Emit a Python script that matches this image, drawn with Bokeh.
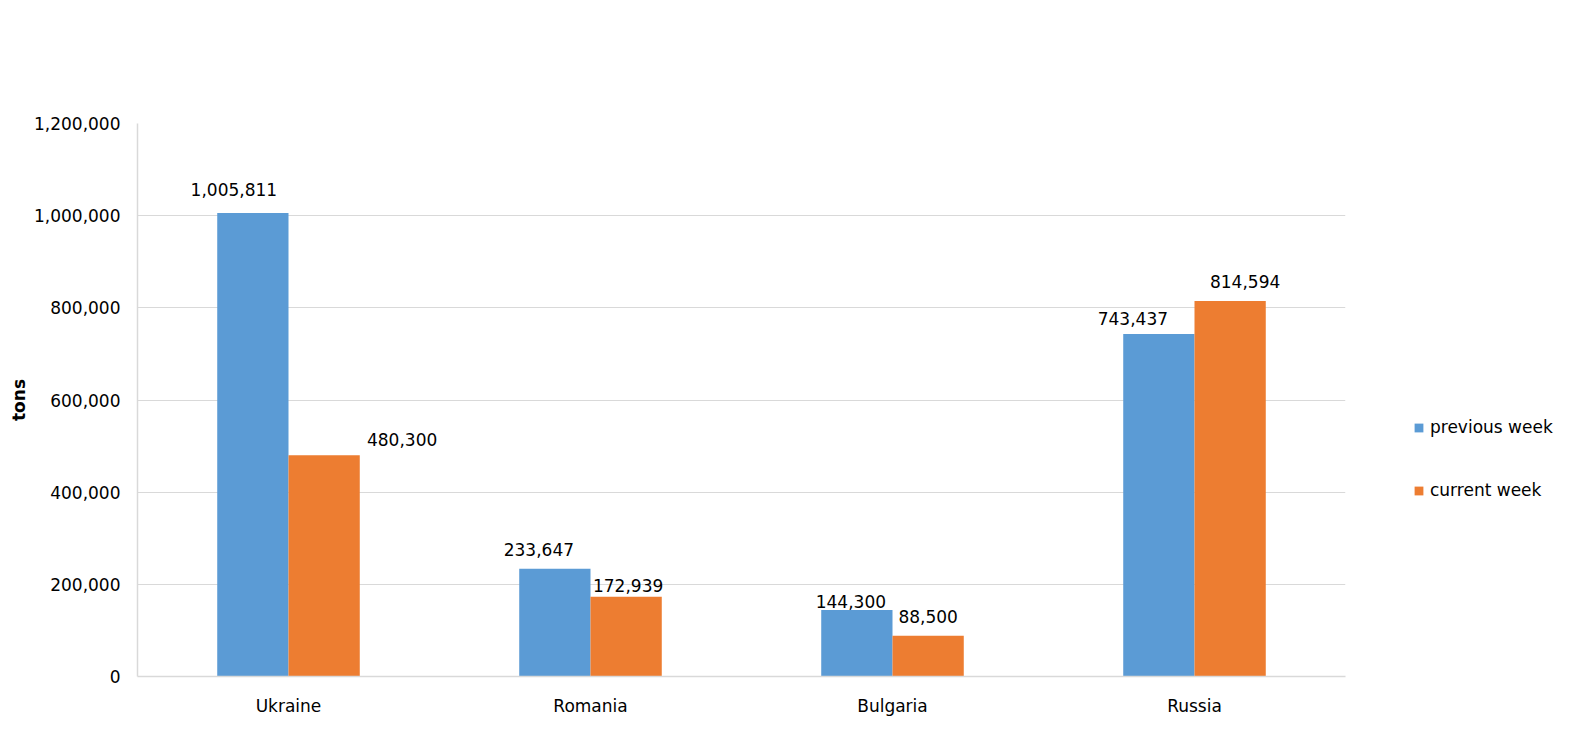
from bokeh.plotting import figure
from bokeh.models import (ColumnDataSource, FactorRange, Range1d, FixedTicker,
                          NumeralTickFormatter, Legend, LegendItem)
from bokeh.transform import dodge
from bokeh.core.properties import value
from bokeh.embed import file_html
from bokeh.resources import INLINE

# ---- data ----
countries = ["Ukraine", "Romania", "Bulgaria", "Russia"]
previous_week = [1005811, 233647, 144300, 743437]
current_week = [480300, 172939, 88500, 814594]
y_ticks = [0, 200000, 400000, 600000, 800000, 1000000, 1200000]
series_names = ["previous week", "current week"]

# ---- label placement styling (pixel nudges, as in the reference) ----
prev_dx = [-19, -16, -6, -26]
prev_dy = [-23, -19, -9, -15]
curr_dx = [78, 2, 0, 15]
curr_dy = [-16, -11, -19, -20]

FONT = "DejaVu Sans"
BLUE = "#5B9BD5"
ORANGE = "#ED7D31"
GRID = "#D9D9D9"

src = ColumnDataSource(dict(
    cat=countries,
    prev=previous_week,
    curr=current_week,
    prev_txt=[f"{v:,}" for v in previous_week],
    curr_txt=[f"{v:,}" for v in current_week],
    prev_dx=prev_dx, prev_dy=prev_dy,
    curr_dx=curr_dx, curr_dy=curr_dy,
))

p = figure(frame_width=1208, frame_height=553, x_range=FactorRange(*countries),
           y_range=Range1d(0, 1200000), output_backend="svg",
           toolbar_location=None, min_border_left=137, min_border_right=0,
           min_border_top=123, min_border_bottom=44)
p.outline_line_color = None
p.background_fill_color = "white"

bw = 0.236
r1 = p.vbar(x=dodge("cat", -bw / 2, range=p.x_range), top="prev", width=bw,
            source=src, fill_color=BLUE, line_color=None)
r2 = p.vbar(x=dodge("cat", bw / 2, range=p.x_range), top="curr", width=bw,
            source=src, fill_color=ORANGE, line_color=None)

p.text(x=dodge("cat", -bw / 2, range=p.x_range), y="prev", text="prev_txt",
       x_offset="prev_dx", y_offset="prev_dy", source=src,
       text_align="center", text_baseline="middle", text_font=value(FONT),
       text_font_size="17px", text_color="black")
p.text(x=dodge("cat", bw / 2, range=p.x_range), y="curr", text="curr_txt",
       x_offset="curr_dx", y_offset="curr_dy", source=src,
       text_align="center", text_baseline="middle", text_font=value(FONT),
       text_font_size="17px", text_color="black")

# axes
p.yaxis.ticker = FixedTicker(ticks=y_ticks)
p.yaxis.formatter = NumeralTickFormatter(format="0,0")
p.yaxis.axis_label = "tons"
p.yaxis.axis_label_text_font = FONT
p.yaxis.axis_label_text_font_style = "bold"
p.yaxis.axis_label_text_font_size = "17px"
p.yaxis.axis_label_text_color = "black"
p.yaxis.axis_label_standoff = 2
p.yaxis.major_label_standoff = 11
for ax in (p.xaxis, p.yaxis):
    ax.axis_line_color = GRID
    ax.axis_line_width = 1.5
    ax.major_tick_line_color = None
    ax.minor_tick_line_color = None
    ax.major_label_text_font = FONT
    ax.major_label_text_font_size = "17px"
    ax.major_label_text_color = "black"
p.xaxis.major_label_standoff = 13
p.xgrid.grid_line_color = None
p.ygrid.grid_line_color = GRID
p.ygrid.grid_line_width = 1

legend = Legend(items=[LegendItem(label=series_names[0], renderers=[r1]),
                       LegendItem(label=series_names[1], renderers=[r2])],
                location=(68, 176), orientation="vertical",
                glyph_width=11, glyph_height=11, label_standoff=6, spacing=43,
                padding=0, margin=0, border_line_color=None,
                background_fill_alpha=0,
                label_text_font=FONT, label_text_font_size="17px",
                label_text_color="black", label_height=20)
p.add_layout(legend, "right")

open("out.html", "w").write(file_html(p, INLINE))
